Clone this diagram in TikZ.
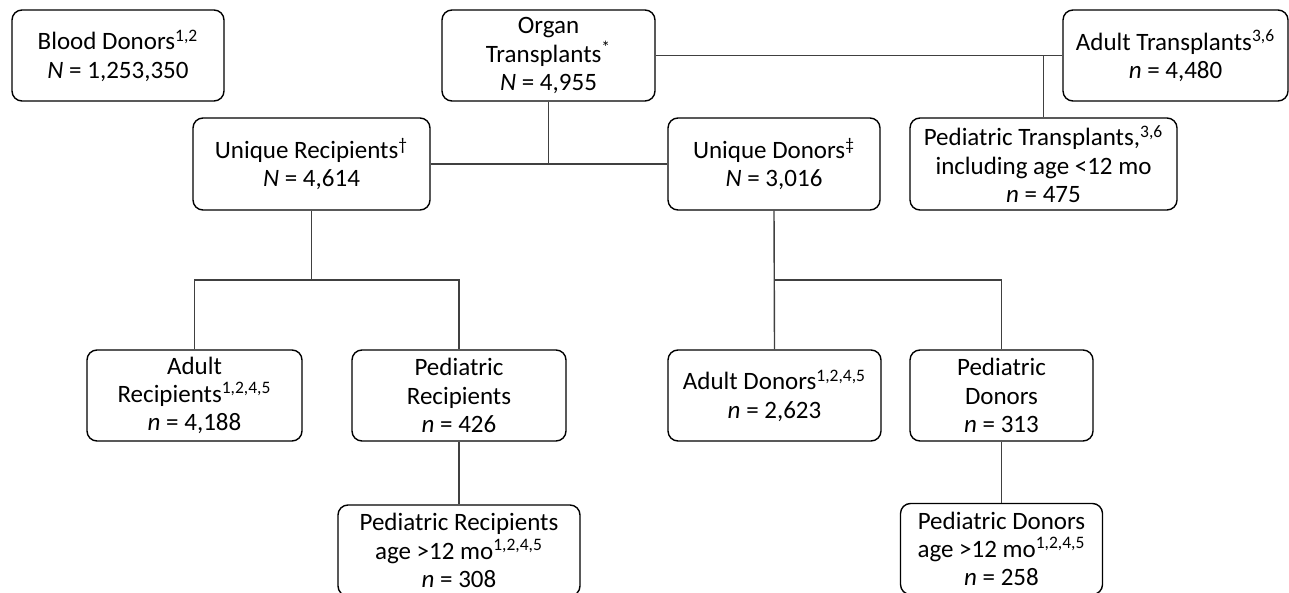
\documentclass[tikz,border=0pt]{standalone}
\usepackage{fontspec}
\setmainfont{Carlito}
\begin{document}
\begin{tikzpicture}[x=0.5pt,y=-0.5pt,
  box/.style={draw=black,line width=0.7pt,rounded corners=5pt,align=center,inner sep=0pt,
    font=\fontsize{12.5}{14.1}\selectfont,minimum height=45.5pt},
  link/.style={draw=black!75,line width=0.7pt}]
\useasboundingbox (0,0) rectangle (1289,593);
\node[box,minimum width=106pt] (blood) at (118,55.5) {Blood Donors\textsuperscript{1,2}\\\textit{N} = 1,253,350};
\node[box,minimum width=106.5pt] (organ) at (548.5,55.5) {Organ\\Transplants\textsuperscript{*}\\\textit{N} = 4,955};
\node[box,minimum width=112.5pt] (adultT) at (1175.5,55.5) {Adult Transplants\textsuperscript{3,6}\\\textit{n} = 4,480};
\node[box,minimum width=118.5pt,minimum height=46pt] (uniqR) at (311.5,164) {Unique Recipients\textsuperscript{†}\\\textit{N} = 4,614};
\node[box,minimum width=106pt,minimum height=46pt] (uniqD) at (774,164) {Unique Donors\textsuperscript{‡}\\\textit{N} = 3,016};
\node[box,minimum width=133.5pt,minimum height=46pt] (pedT) at (1043.5,164) {Pediatric Transplants,\textsuperscript{3,6}\\including age <12 mo\\\textit{n} = 475};
\node[box,minimum width=107.5pt] (adultR) at (194.5,395.5) {Adult\\Recipients\textsuperscript{1,2,4,5}\\\textit{n} = 4,188};
\node[box,minimum width=107pt] (pedR) at (459,395.5) {Pediatric\\Recipients\\\textit{n} = 426};
\node[box,minimum width=106.5pt] (adultD) at (774.5,395.5) {Adult Donors\textsuperscript{1,2,4,5}\\\textit{n} = 2,623};
\node[box,minimum width=91.5pt] (pedD) at (1001.5,395.5) {Pediatric\\Donors\\\textit{n} = 313};
\node[box,minimum width=121pt] (pedR12) at (459,550.5) {Pediatric Recipients\\age >12 mo\textsuperscript{1,2,4,5}\\\textit{n} = 308};
\node[box,minimum width=101pt] (pedD12) at (1001.5,549) {Pediatric Donors\\age >12 mo\textsuperscript{1,2,4,5}\\\textit{n} = 258};
\coordinate (jT) at (1043.5,55.5);
\coordinate (jO) at (548.5,164);
\coordinate (jR) at (311.5,280);
\coordinate (jD) at (774.5,280);
\draw[link] (organ.east) -- (adultT.west);
\draw[link] (jT) -- (pedT.north);
\draw[link] (organ.south) -- (jO);
\draw[link] (uniqR.east) -- (uniqD.west);
\draw[link] (uniqR.south) -- (jR);
\draw[link] (adultR.north) |- (jR) -| (pedR.north);
\draw[link] (uniqD.south) -- (adultD.north);
\draw[link] (jD) -| (pedD.north);
\draw[link] (pedR.south) -- (pedR12.north);
\draw[link] (pedD.south) -- (pedD12.north);
\end{tikzpicture}
\end{document}
